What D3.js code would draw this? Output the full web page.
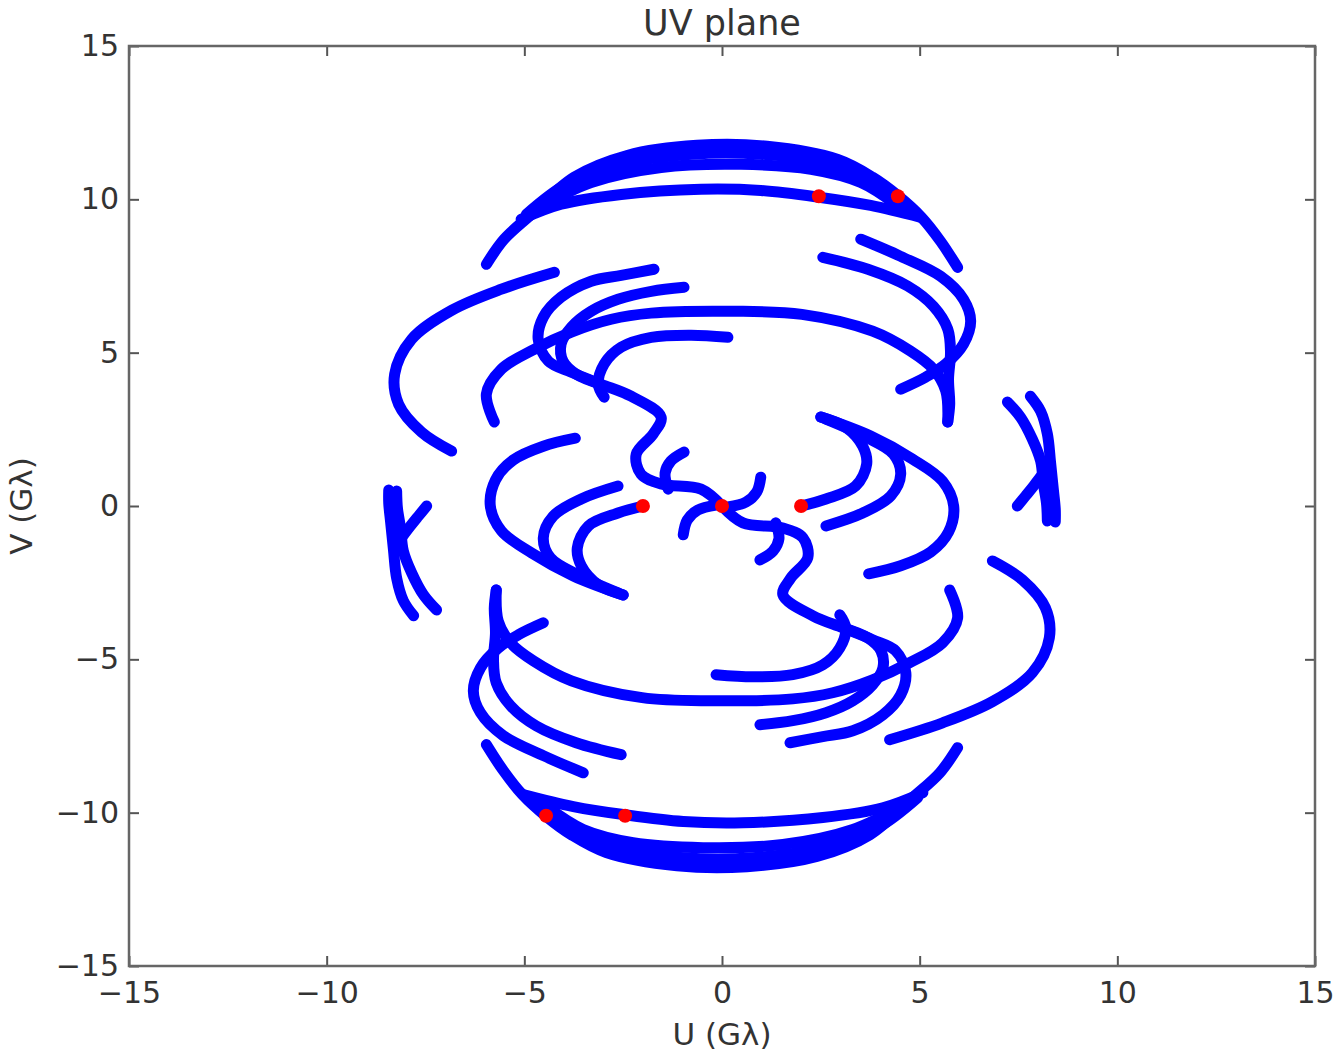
<!DOCTYPE html>
<html>
<head>
<meta charset="utf-8">
<script src="https://cdn.jsdelivr.net/npm/d3@7"></script>
<style>
  body { margin: 0; background: #fff; }
  svg text { font-family: "DejaVu Sans", sans-serif; fill: #333; }
</style>
</head>
<body>
<div id="chart"></div>
<script>
// UV tracks, [u, v] in G-lambda
// upper half and the conjugate (lower) half
const trackT1 = [[-5.96,7.88],[-5.51,8.70],[-4.82,9.51],[-3.74,10.72],[-2.40,11.43],[-0.63,11.76],[1.14,11.73],[2.93,11.30],[3.81,10.72],[4.44,10.13],[5.05,9.41],[5.53,8.63],[5.96,7.78]];
const trackT1Conj = [[5.96,-7.88],[5.51,-8.70],[4.82,-9.51],[3.74,-10.72],[2.40,-11.43],[0.63,-11.76],[-1.14,-11.73],[-2.93,-11.30],[-3.81,-10.72],[-4.44,-10.13],[-5.05,-9.41],[-5.53,-8.63],[-5.96,-7.78]];
const trackB1 = [[-4.95,9.51],[-3.94,10.49],[-2.55,11.14],[-0.78,11.47],[0.98,11.47],[2.75,11.14],[3.89,10.49],[4.65,9.84]];
const trackB1Conj = [[4.95,-9.51],[3.94,-10.49],[2.55,-11.14],[0.78,-11.47],[-0.98,-11.47],[-2.75,-11.14],[-3.89,-10.49],[-4.65,-9.84]];
const trackB2 = [[-4.57,9.77],[-3.31,10.55],[-1.54,11.04],[0.48,11.14],[2.25,10.98],[3.51,10.55],[4.39,9.84]];
const trackB2Conj = [[4.57,-9.77],[3.31,-10.55],[1.54,-11.04],[-0.48,-11.14],[-2.25,-10.98],[-3.51,-10.55],[-4.39,-9.84]];
const trackT2 = [[-5.08,9.35],[-4.07,9.84],[-2.55,10.16],[-0.53,10.33],[0.98,10.29],[2.45,10.07],[3.76,9.80],[5.03,9.41]];
const trackT2Conj = [[5.08,-9.35],[4.07,-9.84],[2.55,-10.16],[0.53,-10.33],[-0.98,-10.29],[-2.45,-10.07],[-3.76,-9.80],[-5.03,-9.41]];
const trackR1 = [[3.51,8.70],[4.52,8.14],[5.53,7.49],[6.11,6.74],[6.29,6.03],[6.11,5.28],[5.66,4.63],[5.15,4.20],[4.52,3.81]];
const trackR1Conj = [[-3.51,-8.70],[-4.52,-8.14],[-5.53,-7.49],[-6.11,-6.74],[-6.29,-6.03],[-6.11,-5.28],[-5.66,-4.63],[-5.15,-4.20],[-4.52,-3.81]];
const trackR2 = [[2.55,8.11],[3.69,7.72],[4.70,7.17],[5.35,6.51],[5.71,5.77],[5.78,5.02],[5.73,4.14],[5.76,3.32],[5.71,2.74]];
const trackR2Conj = [[-2.55,-8.11],[-3.69,-7.72],[-4.70,-7.17],[-5.35,-6.51],[-5.71,-5.77],[-5.78,-5.02],[-5.73,-4.14],[-5.76,-3.32],[-5.71,-2.74]];
const trackM1 = [[-5.76,2.74],[-5.96,3.65],[-5.58,4.46],[-4.75,5.11],[-3.81,5.67],[-2.80,6.09],[-1.79,6.29],[0.25,6.35],[2.02,6.25],[3.81,5.70],[4.77,5.05],[5.35,4.46],[5.66,3.75],[5.71,2.74]];
const trackM1Conj = [[5.76,-2.74],[5.96,-3.65],[5.58,-4.46],[4.75,-5.11],[3.81,-5.67],[2.80,-6.09],[1.79,-6.29],[-0.25,-6.35],[-2.02,-6.25],[-3.81,-5.70],[-4.77,-5.05],[-5.35,-4.46],[-5.66,-3.75],[-5.71,-2.74]];
const trackF = [[0.15,5.50],[-0.78,5.57],[-1.79,5.50],[-2.55,5.18],[-2.98,4.63],[-3.13,3.97],[-2.98,3.55]];
const trackFConj = [[-0.15,-5.50],[0.78,-5.57],[1.79,-5.50],[2.55,-5.18],[2.98,-4.63],[3.13,-3.97],[2.98,-3.55]];
const trackW = [[-1.72,7.72],[-2.55,7.52],[-3.31,7.33],[-4.07,6.81],[-4.52,6.16],[-4.65,5.44],[-4.39,4.72],[-3.81,4.36],[-3.06,3.97],[-2.30,3.58],[-1.54,2.90],[-1.74,2.35],[-2.17,1.69],[-2.05,1.04],[-1.54,0.72],[-0.53,0.55],[0,0]];
const trackWConj = [[1.72,-7.72],[2.55,-7.52],[3.31,-7.33],[4.07,-6.81],[4.52,-6.16],[4.65,-5.44],[4.39,-4.72],[3.81,-4.36],[3.06,-3.97],[2.30,-3.58],[1.54,-2.90],[1.74,-2.35],[2.17,-1.69],[2.05,-1.04],[1.54,-0.72],[0.53,-0.55],[0,0]];
const trackD = [[-0.96,7.13],[-1.79,7.00],[-2.63,6.74],[-3.31,6.35],[-3.81,5.83],[-4.07,5.28],[-4.02,4.72],[-3.69,4.30],[-3.06,3.97]];
const trackDConj = [[0.96,-7.13],[1.79,-7.00],[2.63,-6.74],[3.31,-6.35],[3.81,-5.83],[4.07,-5.28],[4.02,-4.72],[3.69,-4.30],[3.06,-3.97]];
const trackH1 = [[-0.96,1.76],[-1.29,1.47],[-1.44,1.07],[-1.36,0.55]];
const trackH1Conj = [[0.96,-1.76],[1.29,-1.47],[1.44,-1.07],[1.36,-0.55]];
const trackH2 = [[0.98,0.94],[0.88,0.46],[0.61,0.13],[0.15,-0.03]];
const trackH2Conj = [[-0.98,-0.94],[-0.88,-0.46],[-0.61,-0.13],[-0.15,0.03]];
const trackA = [[2.50,2.90],[3.13,2.57],[3.56,1.95],[3.66,1.37],[3.38,0.65],[2.63,0.23],[2.0,0]];
const trackAConj = [[-2.50,-2.90],[-3.13,-2.57],[-3.56,-1.95],[-3.66,-1.37],[-3.38,-0.65],[-2.63,-0.23],[-2.0,0]];
const trackB = [[2.63,2.83],[3.64,2.25],[4.34,1.69],[4.52,1.04],[4.27,0.33],[3.56,-0.23],[2.63,-0.65]];
const trackBConj = [[-2.63,-2.83],[-3.64,-2.25],[-4.34,-1.69],[-4.52,-1.04],[-4.27,-0.33],[-3.56,0.23],[-2.63,0.65]];
const trackC = [[2.50,2.90],[3.76,2.28],[4.82,1.53],[5.58,0.81],[5.86,0],[5.73,-0.85],[5.28,-1.50],[4.52,-1.95],[3.71,-2.21]];
const trackCConj = [[-2.50,-2.90],[-3.76,-2.28],[-4.82,-1.53],[-5.58,-0.81],[-5.86,0],[-5.73,0.85],[-5.28,1.50],[-4.52,1.95],[-3.71,2.21]];
const trackL1 = [[-4.24,7.62],[-5.58,7.07],[-6.84,6.38],[-7.85,5.44],[-8.28,4.30],[-8.18,3.32],[-7.60,2.41],[-6.84,1.79]];
const trackL1Conj = [[4.24,-7.62],[5.58,-7.07],[6.84,-6.38],[7.85,-5.44],[8.28,-4.30],[8.18,-3.32],[7.60,-2.41],[6.84,-1.79]];
const trackS1 = [[7.22,3.39],[7.55,2.90],[7.85,2.18],[8.06,1.47],[8.13,0.72],[8.21,0.07],[8.23,-0.49]];
const trackS1Conj = [[-7.22,-3.39],[-7.55,-2.90],[-7.85,-2.18],[-8.06,-1.47],[-8.13,-0.72],[-8.21,-0.07],[-8.23,0.49]];
const trackS2 = [[7.80,3.58],[8.06,3.09],[8.23,2.35],[8.31,1.43],[8.38,0.55],[8.43,-0.10],[8.43,-0.52]];
const trackS2Conj = [[-7.80,-3.58],[-8.06,-3.09],[-8.23,-2.35],[-8.31,-1.43],[-8.38,-0.55],[-8.43,0.10],[-8.43,0.52]];
const trackS3 = [[7.47,0],[7.68,0.33],[7.88,0.65],[8.11,1.04]];
const trackS3Conj = [[-7.47,0],[-7.68,-0.33],[-7.88,-0.65],[-8.11,-1.04]];

// red markers
const redU = [2.45, 4.45, -2, 0, 2, -4.45, -2.45];
const redV = [10.1, 10.1, 0, 0, 0, -10.1, -10.1];

const xTicks = [-15, -10, -5, 0, 5, 10, 15];
const yTicks = [-15, -10, -5, 0, 5, 10, 15];

const tracks = [
  trackT1, trackT1Conj, trackB1, trackB1Conj, trackB2, trackB2Conj, trackT2, trackT2Conj,
  trackR1, trackR1Conj, trackR2, trackR2Conj, trackM1, trackM1Conj, trackF, trackFConj,
  trackW, trackWConj, trackD, trackDConj, trackH1, trackH1Conj, trackH2, trackH2Conj,
  trackA, trackAConj, trackB, trackBConj, trackC, trackCConj, trackL1, trackL1Conj,
  trackS1, trackS1Conj, trackS2, trackS2Conj, trackS3, trackS3Conj
];

const W = 1335, H = 1055;
const margin = { top: 46, right: 20, bottom: 89, left: 129 };
const width = W - margin.left - margin.right;
const height = H - margin.top - margin.bottom;

const svg = d3.select('#chart').append('svg')
  .attr('width', W)
  .attr('height', H);

const g = svg.append('g')
  .attr('transform', 'translate(' + margin.left + ',' + margin.top + ')');

const x = d3.scaleLinear().domain([-15, 15]).range([0, width]);
const y = d3.scaleLinear().domain([-15, 15]).range([height, 0]);

const line = d3.line()
  .x(function(d) { return x(d[0]) })
  .y(function(d) { return y(d[1]) })
  .curve(d3.curveCatmullRom.alpha(0.5));

g.append('g')
  .selectAll('path')
  .data(tracks)
  .enter().append('path')
    .attr('d', line)
    .attr('fill', 'none')
    .attr('stroke', '#0000ff')
    .attr('stroke-width', 11)
    .attr('stroke-linecap', 'round')
    .attr('stroke-linejoin', 'round');

g.selectAll('.red')
  .data(redU)
  .enter().append('circle')
    .attr('class', 'red')
    .attr('cx', function(d) { return x(d) })
    .attr('cy', function(d, i) { return y(redV[i]) })
    .attr('r', 7)
    .attr('fill', '#ff0000');

// axes, ticks pointing inwards on all four sides
function styleAxis(sel) {
  sel.select('.domain').remove();
  sel.selectAll('.tick line').attr('stroke', '#555').attr('stroke-width', 2);
  sel.selectAll('.tick text').style('font-size', '30px').attr('fill', '#333');
}

g.append('g')
  .attr('transform', 'translate(0,' + height + ')')
  .call(d3.axisBottom(x).tickValues(xTicks).tickSize(-10).tickPadding(16))
  .call(styleAxis);
g.append('g')
  .call(d3.axisTop(x).tickValues(xTicks).tickSize(-10).tickFormat(''))
  .call(styleAxis);
g.append('g')
  .call(d3.axisLeft(y).tickValues(yTicks).tickSize(-10).tickPadding(10))
  .call(styleAxis);
g.append('g')
  .attr('transform', 'translate(' + width + ',0)')
  .call(d3.axisRight(y).tickValues(yTicks).tickSize(-10).tickFormat(''))
  .call(styleAxis);

g.append('rect')
  .attr('width', width)
  .attr('height', height)
  .attr('fill', 'none')
  .attr('stroke', '#666')
  .attr('stroke-width', 2.5);

svg.append('text')
  .attr('x', margin.left + width / 2)
  .attr('y', 35)
  .attr('text-anchor', 'middle')
  .style('font-size', '35px')
  .text('UV plane');

svg.append('text')
  .attr('x', margin.left + width / 2)
  .attr('y', 1045)
  .attr('text-anchor', 'middle')
  .style('font-size', '31px')
  .text('U (Gλ)');

svg.append('text')
  .attr('transform', 'translate(32,' + (margin.top + height / 2) + ') rotate(-90)')
  .attr('text-anchor', 'middle')
  .style('font-size', '31px')
  .text('V (Gλ)');
</script>
</body>
</html>
